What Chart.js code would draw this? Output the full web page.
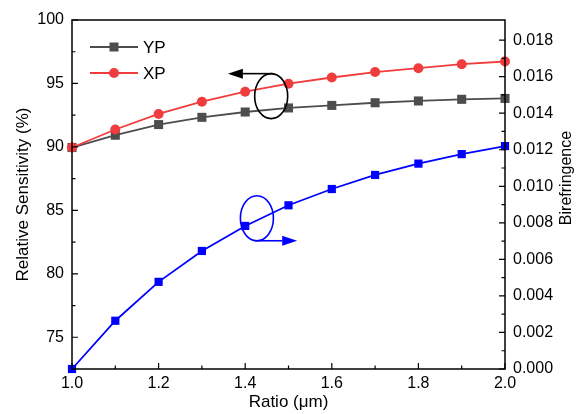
<!DOCTYPE html>
<html>
<head>
<meta charset="utf-8">
<script src="https://cdn.jsdelivr.net/npm/chart.js@4"></script>
<style>
  html, body { margin: 0; padding: 0; background: #fff; }
  #wrap { width: 577px; height: 414px; }
</style>
</head>
<body>
<div id="wrap"><canvas id="chart" width="577" height="414"></canvas></div>
<script>
// --- data ---
const ratio = [1.0, 1.1, 1.2, 1.3, 1.4, 1.5, 1.6, 1.7, 1.8, 1.9, 2.0];
const ypSens = [89.95, 90.92, 91.76, 92.33, 92.75, 93.07, 93.27, 93.48, 93.62, 93.75, 93.82];
const xpSens = [89.95, 91.37, 92.60, 93.56, 94.35, 94.98, 95.47, 95.90, 96.20, 96.52, 96.73];
const biref = [0.0000, 0.00264, 0.00477, 0.00646, 0.00783, 0.00896, 0.00985, 0.01062, 0.01124, 0.01176, 0.0122];

const xTicks = [1.0, 1.2, 1.4, 1.6, 1.8, 2.0];
const xMinor = [1.1, 1.3, 1.5, 1.7, 1.9];
const leftTicks = [75, 80, 85, 90, 95, 100];
const leftMinor = [77.5, 82.5, 87.5, 92.5, 97.5];
const rightTicks = [0, 0.002, 0.004, 0.006, 0.008, 0.010, 0.012, 0.014, 0.016, 0.018];
const rightMinor = [0.001, 0.003, 0.005, 0.007, 0.009, 0.011, 0.013, 0.015, 0.017];

const FONT = 'Liberation Sans, Arial, sans-serif';
const GREY = '#4d4d4d';
const RED = '#f03c3c';
const BLUE = '#0000ff';

// annotation anchors in data units
const leftMark = { cx: 1.46, cy: 94.0, axis: 'y', tipX: 1.36, color: '#000' };
const rightMark = { cx: 1.427, cy: 0.00825, axis: 'y2', tipX: 1.52, color: BLUE };

const toPts = (ys) => ratio.map((x, i) => ({ x, y: ys[i] }));

const decor = {
  id: 'decor',
  afterDatasetsDraw(chart) {
    const { ctx, chartArea: a, scales } = chart;
    const sx = scales.x, sl = scales.y, sr = scales.y2;
    ctx.save();

    // frame
    ctx.strokeStyle = '#000';
    ctx.lineWidth = 1.5;
    ctx.strokeRect(a.left, a.top, a.right - a.left, a.bottom - a.top);

    // inward ticks
    ctx.lineWidth = 1.2;
    ctx.beginPath();
    const tick = (x1, y1, x2, y2) => { ctx.moveTo(x1, y1); ctx.lineTo(x2, y2); };
    xTicks.forEach(v => { const x = sx.getPixelForValue(v); tick(x, a.bottom, x, a.bottom - 6); });
    xMinor.forEach(v => { const x = sx.getPixelForValue(v); tick(x, a.bottom, x, a.bottom - 3.5); });
    leftTicks.forEach(v => { const y = sl.getPixelForValue(v); tick(a.left, y, a.left + 6, y); });
    leftMinor.forEach(v => { const y = sl.getPixelForValue(v); tick(a.left, y, a.left + 3.5, y); });
    rightTicks.forEach(v => { const y = sr.getPixelForValue(v); tick(a.right, y, a.right - 6, y); });
    rightMinor.forEach(v => { const y = sr.getPixelForValue(v); tick(a.right, y, a.right - 3.5, y); });
    ctx.stroke();

    // legend (inside plot, top-left)
    const items = [
      { label: 'YP', color: GREY, shape: 'rect' },
      { label: 'XP', color: RED, shape: 'circle' }
    ];
    items.forEach((it, i) => {
      const y = a.top + 27 + i * 26;
      const x0 = a.left + 18;
      ctx.strokeStyle = it.color;
      ctx.lineWidth = 1.8;
      ctx.beginPath(); ctx.moveTo(x0, y); ctx.lineTo(x0 + 48, y); ctx.stroke();
      ctx.fillStyle = it.color;
      ctx.beginPath();
      if (it.shape === 'rect') ctx.rect(x0 + 24 - 4.5, y - 4.5, 9, 9);
      else ctx.arc(x0 + 24, y, 5, 0, Math.PI * 2);
      ctx.fill();
      ctx.fillStyle = '#000';
      ctx.font = '17px ' + FONT;
      ctx.textBaseline = 'middle';
      ctx.textAlign = 'left';
      ctx.fillText(it.label, x0 + 53, y + 1);
    });

    // ellipse + arrow annotations
    const drawMark = (m, top) => {
      const cx = sx.getPixelForValue(m.cx);
      const cy = scales[m.axis].getPixelForValue(m.cy);
      const rx = 16.5, ry = 22.5;
      ctx.strokeStyle = m.color;
      ctx.fillStyle = m.color;
      ctx.lineWidth = 1.6;
      ctx.beginPath(); ctx.ellipse(cx, cy, rx, ry, 0, 0, Math.PI * 2); ctx.stroke();
      const ay = top ? cy - ry : cy + ry;
      const tip = sx.getPixelForValue(m.tipX);
      const dir = tip < cx ? -1 : 1;
      const base = tip - dir * 15;
      ctx.beginPath(); ctx.moveTo(cx + (top ? 2 : -2), ay); ctx.lineTo(base, ay); ctx.stroke();
      ctx.beginPath();
      ctx.moveTo(tip, ay); ctx.lineTo(base, ay - 5); ctx.lineTo(base, ay + 5); ctx.closePath();
      ctx.fill();
    };
    drawMark(leftMark, true);
    drawMark(rightMark, false);

    // right axis title (reads bottom-to-top)
    ctx.save();
    ctx.fillStyle = '#000';
    ctx.font = '16px ' + FONT;
    ctx.textAlign = 'center';
    ctx.textBaseline = 'middle';
    ctx.translate(567, 178);
    ctx.rotate(-Math.PI / 2);
    ctx.fillText('Birefringence', 0, 0);
    ctx.restore();

    ctx.restore();
  }
};

const fixedTicks = (list) => (axis) => { axis.ticks = list.map(v => ({ value: v })); };

new Chart(document.getElementById('chart'), {
  type: 'line',
  data: {
    datasets: [
      {
        label: 'YP', data: toPts(ypSens), yAxisID: 'y',
        borderColor: GREY, backgroundColor: GREY, borderWidth: 1.8,
        pointStyle: 'rect', pointRadius: 6.4, pointBorderWidth: 0, order: 3
      },
      {
        label: 'XP', data: toPts(xpSens), yAxisID: 'y',
        borderColor: RED, backgroundColor: RED, borderWidth: 1.8,
        pointStyle: 'circle', pointRadius: 5, pointBorderWidth: 0, order: 2
      },
      {
        label: 'Birefringence', data: toPts(biref), yAxisID: 'y2',
        borderColor: BLUE, backgroundColor: BLUE, borderWidth: 1.8,
        pointStyle: 'rect', pointRadius: 5.8, pointBorderWidth: 0, order: 1
      }
    ]
  },
  options: {
    responsive: false,
    animation: false,
    clip: false,
    layout: { padding: { top: 20, left: 0, right: 0, bottom: 0 } },
    plugins: { legend: { display: false }, tooltip: { enabled: false } },
    scales: {
      x: {
        type: 'linear', min: 1.0, max: 2.0,
        afterBuildTicks: fixedTicks(xTicks),
        afterFit: (s) => { s.height = 45; },
        grid: { display: false, drawTicks: false },
        border: { display: false },
        ticks: { color: '#000', padding: 5, font: { family: FONT, size: 16 },
                 maxRotation: 0, autoSkip: false, callback: v => v.toFixed(1) },
        title: { display: true, text: 'Ratio (μm)', color: '#000',
                 font: { family: FONT, size: 17 }, padding: { top: 0, bottom: 1 } }
      },
      y: {
        type: 'linear', position: 'left', min: 72.5, max: 100,
        afterBuildTicks: fixedTicks(leftTicks),
        afterFit: (s) => { s.width = 72; },
        grid: { display: false, drawTicks: false },
        border: { display: false },
        ticks: { color: '#000', padding: 8, font: { family: FONT, size: 16 }, autoSkip: false },
        title: { display: true, text: 'Relative Sensitivity (%)', color: '#000',
                 font: { family: FONT, size: 17 }, padding: { top: 13, bottom: 0 } }
      },
      y2: {
        type: 'linear', position: 'right', min: 0, max: 0.0191,
        afterBuildTicks: fixedTicks(rightTicks),
        afterFit: (s) => { s.width = 72; },
        grid: { display: false, drawTicks: false },
        border: { display: false },
        ticks: { color: '#000', padding: 8, font: { family: FONT, size: 16 }, autoSkip: false,
                 callback: v => v.toFixed(3) },
        title: { display: false }
      }
    }
  },
  plugins: [decor]
});
</script>
</body>
</html>
